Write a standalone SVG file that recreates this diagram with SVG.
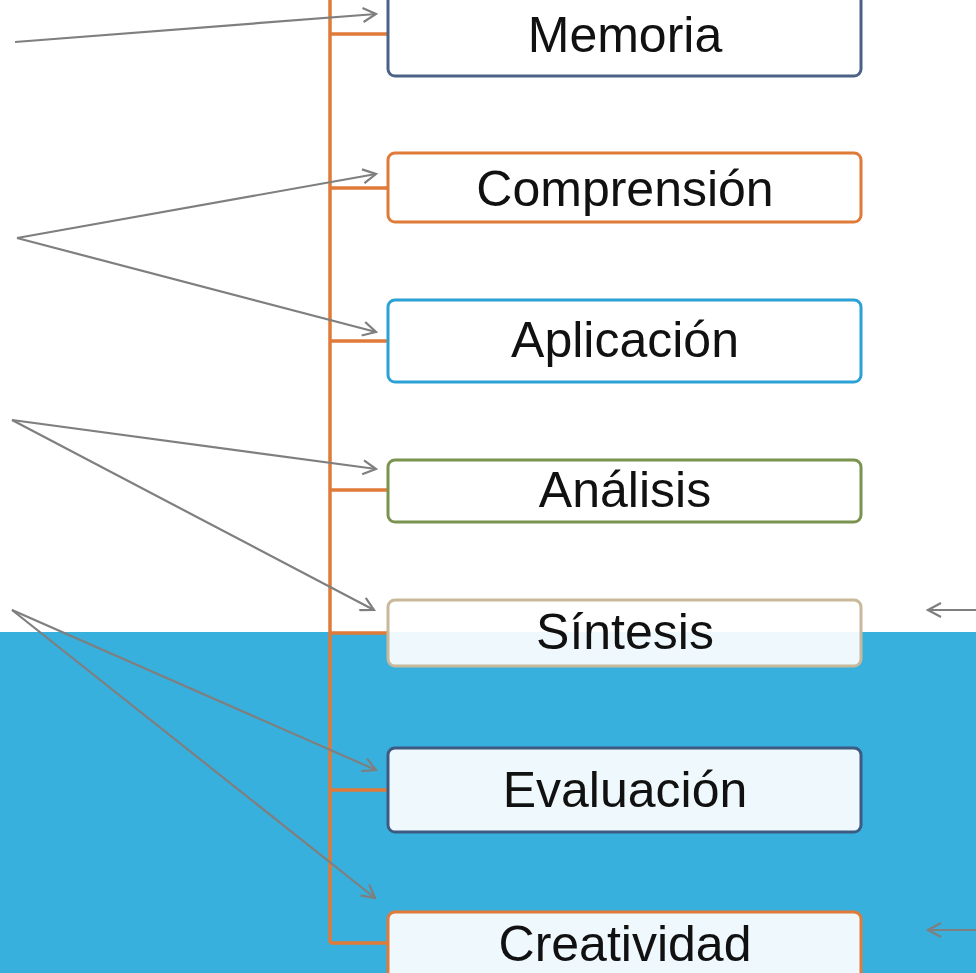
<svg xmlns="http://www.w3.org/2000/svg" width="976" height="973" viewBox="0 0 976 973">
<defs>
<marker id="arr" markerWidth="16" markerHeight="16" refX="14" refY="8" orient="auto" markerUnits="userSpaceOnUse">
<path d="M1,1 L14,8 L1,15" fill="none" stroke="#7f7f7f" stroke-width="2.2"/>
</marker>
<style>
.box{fill:#ffffff;fill-opacity:0.92;stroke-width:3}
.lbl{font-family:"Liberation Sans",Arial,sans-serif;font-size:50px;fill:#111;text-anchor:middle}
.tree{stroke:#e07a38;stroke-width:3.5;fill:none}
.arw{stroke:#7f7f7f;stroke-width:2.2;fill:none;marker-end:url(#arr)}
</style>
</defs>
<rect x="0" y="0" width="976" height="973" fill="#ffffff"/>
<rect x="0" y="632" width="976" height="341" fill="#38b0de"/>
<g id="tree" class="tree">
<line x1="330" y1="0" x2="330" y2="943"/>
<line x1="330" y1="34" x2="388" y2="34"/>
<line x1="330" y1="188" x2="388" y2="188"/>
<line x1="330" y1="341" x2="388" y2="341"/>
<line x1="330" y1="490" x2="388" y2="490"/>
<line x1="330" y1="633" x2="388" y2="633"/>
<line x1="330" y1="790" x2="388" y2="790"/>
<line x1="330" y1="943" x2="388" y2="943"/>
</g>
<g id="memoria"><rect class="box" x="388" y="-10" width="473" height="86" rx="7" stroke="#4a6285"/><text class="lbl" x="625" y="52">Memoria</text></g>
<g id="comprension"><rect class="box" x="388" y="153" width="473" height="69" rx="7" stroke="#e07a38"/><text class="lbl" x="625" y="206">Comprensión</text></g>
<g id="aplicacion"><rect class="box" x="388" y="300" width="473" height="82" rx="7" stroke="#2ba1d5"/><text class="lbl" x="625" y="357">Aplicación</text></g>
<g id="analisis"><rect class="box" x="388" y="460" width="473" height="62" rx="7" stroke="#7a9450"/><text class="lbl" x="625" y="507">Análisis</text></g>
<g id="sintesis"><rect class="box" x="388" y="600" width="473" height="66" rx="7" stroke="#c8b99a"/><text class="lbl" x="625" y="649">Síntesis</text></g>
<g id="evaluacion"><rect class="box" x="388" y="748" width="473" height="84" rx="7" stroke="#3d5a80"/><text class="lbl" x="625" y="807">Evaluación</text></g>
<g id="creatividad"><rect class="box" x="388" y="912" width="473" height="80" rx="7" stroke="#e07a38"/><text class="lbl" x="625" y="961">Creatividad</text></g>
<g id="connectors">
<line class="arw" x1="15" y1="42" x2="376" y2="14"/>
<line class="arw" x1="17" y1="238" x2="376" y2="174"/>
<line class="arw" x1="17" y1="238" x2="376" y2="332"/>
<line class="arw" x1="12" y1="420" x2="376" y2="469"/>
<line class="arw" x1="12" y1="420" x2="374" y2="610"/>
<line class="arw" x1="12" y1="610" x2="376" y2="770"/>
<line class="arw" x1="12" y1="610" x2="375" y2="898"/>
<line class="arw" x1="976" y1="610" x2="928" y2="610"/>
<line class="arw" x1="976" y1="930" x2="928" y2="930"/>
</g>
</svg>
